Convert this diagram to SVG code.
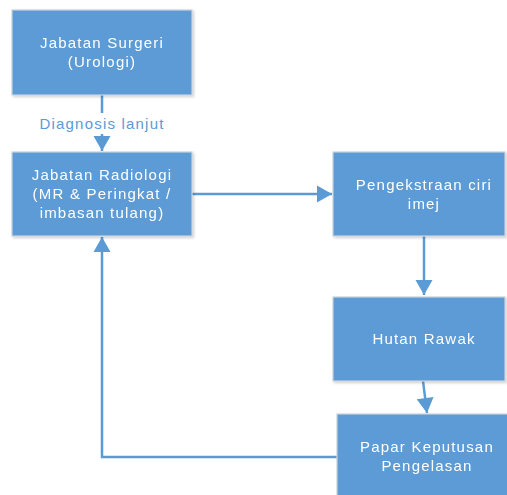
<svg xmlns="http://www.w3.org/2000/svg" width="507" height="495" viewBox="0 0 507 495">
  <defs>
    <style>
      .box { fill: #5b9bd5; stroke: #c9d3dc; stroke-width: 1.2; }
      .lbl { fill: #ffffff; font-family: "Liberation Sans", Arial, sans-serif; font-size: 15px; letter-spacing: 1.2px; text-anchor: middle; }
      .edge { fill: none; stroke: #5b9bd5; stroke-width: 2.5; }
      .elbl { fill: #5b9bd5; font-family: "Liberation Sans", Arial, sans-serif; font-size: 15px; letter-spacing: 1.2px; text-anchor: middle; }
    </style>
    <marker id="arrow" markerUnits="userSpaceOnUse" markerWidth="18" markerHeight="18" viewBox="0 0 16 18" refX="15" refY="9" orient="auto">
      <path d="M0,0.5 L15,9 L0,17.5 Z" fill="#5b9bd5"/>
    </marker>
    <filter id="shadow" x="-5%" y="-5%" width="115%" height="120%">
      <feDropShadow dx="1.5" dy="1.5" stdDeviation="1" flood-color="#000000" flood-opacity="0.18"/>
    </filter>
  </defs>

  <rect width="507" height="495" fill="#ffffff"/>

  <!-- connectors -->
  <g id="connectors">
    <line class="edge" x1="102" y1="95" x2="102" y2="113"/>
    <line class="edge" x1="102" y1="134" x2="102" y2="151" marker-end="url(#arrow)"/>
    <text class="elbl" x="102" y="129">Diagnosis lanjut</text>
    <line class="edge" x1="192" y1="194" x2="332" y2="194" marker-end="url(#arrow)"/>
    <line class="edge" x1="424" y1="236" x2="424" y2="295" marker-end="url(#arrow)"/>
    <line class="edge" x1="423" y1="381" x2="427" y2="413" marker-end="url(#arrow)"/>
    <polyline class="edge" points="337,457 102,457 102,237" marker-end="url(#arrow)"/>
  </g>

  <g id="surgeri" filter="url(#shadow)">
    <rect class="box" x="12" y="10" width="180" height="85"/>
    <text class="lbl" x="102" y="48">Jabatan Surgeri</text>
    <text class="lbl" x="102" y="67">(Urologi)</text>
  </g>

  <g id="radiologi" filter="url(#shadow)">
    <rect class="box" x="12" y="152" width="180" height="84"/>
    <text class="lbl" x="102" y="180">Jabatan Radiologi</text>
    <text class="lbl" x="102" y="199">(MR &amp; Peringkat /</text>
    <text class="lbl" x="102" y="218">imbasan tulang)</text>
  </g>

  <g id="pengekstraan" filter="url(#shadow)">
    <rect class="box" x="333" y="152" width="172" height="84"/>
    <text class="lbl" x="424" y="190">Pengekstraan ciri</text>
    <text class="lbl" x="424" y="209">imej</text>
  </g>

  <g id="hutan-rawak" filter="url(#shadow)">
    <rect class="box" x="333" y="297" width="172" height="84"/>
    <text class="lbl" x="424" y="344">Hutan Rawak</text>
  </g>

  <g id="papar-keputusan" filter="url(#shadow)">
    <rect class="box" x="337" y="414" width="175" height="90"/>
    <text class="lbl" x="427" y="452">Papar Keputusan</text>
    <text class="lbl" x="427" y="471">Pengelasan</text>
  </g>
</svg>
